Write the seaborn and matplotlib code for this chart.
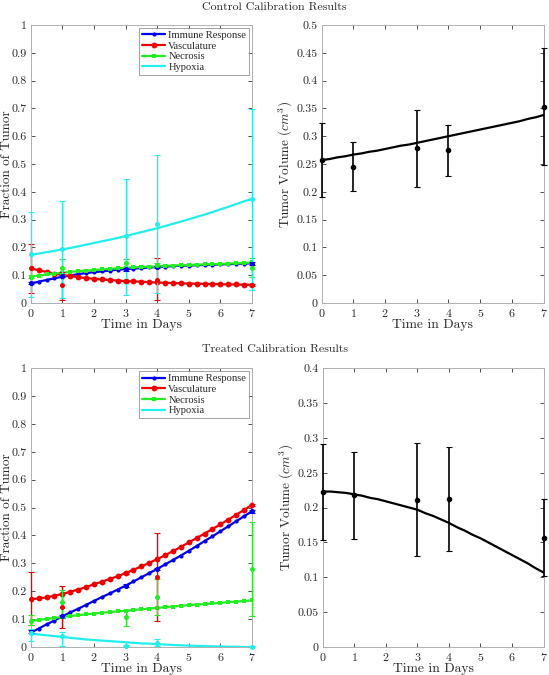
#!/usr/bin/env python3
"""Control vs treated calibration results: tumor fractions and tumor volume."""

import matplotlib
matplotlib.use("Agg")
import matplotlib.pyplot as plt
import numpy as np
import seaborn as sns

# model time grid (days) for the fitted curves
T_MODEL = [0, 0.25, 0.5, 0.75, 1, 1.25, 1.5, 1.75, 2, 2.25, 2.5, 2.75, 3, 3.25, 3.5,
           3.75, 4, 4.25, 4.5, 4.75, 5, 5.25, 5.5, 5.75, 6, 6.25, 6.5, 6.75, 7]
DAYS = [0, 1, 3, 4, 7]
SERIES = ["Immune Response", "Vasculature", "Necrosis", "Hypoxia"]

# ---- control: model curves
ctrl_immune = [0.070, 0.077, 0.083, 0.089, 0.095, 0.099, 0.104, 0.108, 0.111, 0.114,
               0.117, 0.120, 0.122, 0.124, 0.126, 0.128, 0.130, 0.131, 0.133, 0.134,
               0.135, 0.136, 0.137, 0.138, 0.139, 0.140, 0.141, 0.142, 0.143]
ctrl_vasc = [0.125, 0.118, 0.112, 0.106, 0.101, 0.097, 0.093, 0.090, 0.087, 0.085,
             0.083, 0.081, 0.079, 0.078, 0.077, 0.075, 0.074, 0.073, 0.072, 0.071,
             0.070, 0.070, 0.069, 0.068, 0.068, 0.067, 0.067, 0.066, 0.066]
ctrl_necr = [0.095, 0.099, 0.103, 0.106, 0.109, 0.112, 0.115, 0.117, 0.119, 0.121,
             0.123, 0.125, 0.127, 0.128, 0.130, 0.131, 0.132, 0.134, 0.135, 0.136,
             0.137, 0.138, 0.139, 0.140, 0.141, 0.142, 0.143, 0.144, 0.146]
ctrl_hypo = [0.173, 0.178, 0.183, 0.188, 0.193, 0.198, 0.204, 0.210, 0.216, 0.222,
             0.228, 0.234, 0.241, 0.248, 0.255, 0.262, 0.269, 0.277, 0.285, 0.293,
             0.301, 0.310, 0.318, 0.327, 0.337, 0.346, 0.356, 0.366, 0.374]
ctrl_volume = [0.257, 0.259, 0.262, 0.264, 0.267, 0.269, 0.272, 0.274, 0.277, 0.280,
               0.283, 0.285, 0.288, 0.291, 0.294, 0.297, 0.300, 0.303, 0.306, 0.309,
               0.312, 0.315, 0.318, 0.321, 0.324, 0.327, 0.331, 0.334, 0.338]

# ---- control: measured data (mean, lower, upper) at DAYS
ctrl_immune_obs = [0.072, 0.097, 0.121, 0.130, 0.142]
ctrl_immune_lo = [0.067, 0.092, 0.116, 0.125, 0.137]
ctrl_immune_hi = [0.077, 0.102, 0.126, 0.135, 0.147]
ctrl_vasc_obs = [0.127, 0.065, 0.078, 0.083, 0.065]
ctrl_vasc_lo = [0.038, 0.011, 0.075, 0.011, 0.062]
ctrl_vasc_hi = [0.211, 0.113, 0.081, 0.161, 0.068]
ctrl_necr_obs = [0.095, 0.127, 0.143, 0.137, 0.125]
ctrl_necr_lo = [0.090, 0.100, 0.128, 0.128, 0.095]
ctrl_necr_hi = [0.100, 0.157, 0.157, 0.145, 0.161]
ctrl_hypo_obs = [0.175, 0.194, 0.241, 0.283, 0.373]
ctrl_hypo_lo = [0.023, 0.020, 0.029, 0.035, 0.047]
ctrl_hypo_hi = [0.326, 0.367, 0.445, 0.532, 0.697]
ctrl_vol_obs = [0.257, 0.245, 0.278, 0.275, 0.353]
ctrl_vol_lo = [0.190, 0.201, 0.209, 0.229, 0.248]
ctrl_vol_hi = [0.323, 0.290, 0.347, 0.320, 0.458]

# ---- treated: model curves
trt_immune = [0.052, 0.066, 0.081, 0.095, 0.110, 0.124, 0.137, 0.151, 0.165, 0.179,
              0.192, 0.206, 0.220, 0.235, 0.250, 0.265, 0.280, 0.296, 0.312, 0.328,
              0.345, 0.362, 0.380, 0.397, 0.415, 0.433, 0.451, 0.469, 0.487]
trt_vasc = [0.172, 0.174, 0.178, 0.184, 0.190, 0.198, 0.206, 0.215, 0.225, 0.234,
            0.244, 0.254, 0.265, 0.277, 0.289, 0.302, 0.315, 0.329, 0.344, 0.359,
            0.375, 0.391, 0.407, 0.423, 0.440, 0.457, 0.474, 0.492, 0.510]
trt_necr = [0.093, 0.097, 0.101, 0.104, 0.108, 0.111, 0.114, 0.117, 0.120, 0.123,
            0.125, 0.128, 0.130, 0.133, 0.135, 0.138, 0.140, 0.143, 0.145, 0.148,
            0.150, 0.152, 0.154, 0.156, 0.158, 0.161, 0.163, 0.165, 0.167]
trt_hypo = [0.048, 0.045, 0.042, 0.039, 0.036, 0.033, 0.030, 0.027, 0.025, 0.023,
            0.021, 0.019, 0.017, 0.015, 0.013, 0.012, 0.010, 0.009, 0.007, 0.006,
            0.005, 0.004, 0.003, 0.002, 0.002, 0.001, 0.001, 0.000, 0.000]
trt_volume = [0.223, 0.223, 0.222, 0.221, 0.219, 0.217, 0.214, 0.212, 0.209, 0.206,
              0.203, 0.200, 0.197, 0.192, 0.188, 0.183, 0.178, 0.172, 0.167, 0.161,
              0.156, 0.150, 0.144, 0.138, 0.132, 0.126, 0.120, 0.113, 0.107]

# ---- treated: measured data
trt_immune_obs = [0.055, 0.110, 0.220, 0.280, 0.487]
trt_immune_lo = [0.050, 0.105, 0.215, 0.275, 0.482]
trt_immune_hi = [0.060, 0.115, 0.225, 0.285, 0.492]
trt_vasc_obs = [0.172, 0.142, 0.265, 0.250, 0.510]
trt_vasc_lo = [0.080, 0.068, 0.262, 0.095, 0.506]
trt_vasc_hi = [0.269, 0.217, 0.268, 0.409, 0.514]
trt_necr_obs = [0.093, 0.163, 0.106, 0.178, 0.281]
trt_necr_lo = [0.080, 0.105, 0.077, 0.115, 0.112]
trt_necr_hi = [0.115, 0.205, 0.130, 0.245, 0.450]
trt_hypo_obs = [0.050, 0.040, 0.005, 0.015, 0.000]
trt_hypo_lo = [0.020, 0.005, 0.002, 0.005, 0.000]
trt_hypo_hi = [0.065, 0.055, 0.008, 0.030, 0.002]
trt_vol_obs = [0.223, 0.218, 0.211, 0.213, 0.157]
trt_vol_lo = [0.154, 0.155, 0.130, 0.138, 0.102]
trt_vol_hi = [0.291, 0.280, 0.292, 0.287, 0.212]

COLORS = ["#0000ee", "#ee0000", "#22ee22", "#22eeee"]
MARKERS = [("o", 3.0), ("o", 4.2), ("s", 2.6), (None, 0)]

sns.set_theme(style="ticks")
plt.rcParams["font.family"] = ["cmr10", "DejaVu Serif"]
plt.rcParams["mathtext.fontset"] = "cm"
plt.rcParams["axes.formatter.use_mathtext"] = True
plt.rcParams["axes.unicode_minus"] = False


def style_axes(ax, ymax, ystep):
    ax.set_xlim(0, 7)
    ax.set_ylim(0, ymax)
    ax.set_xticks(range(8))
    ax.set_yticks(np.arange(0, ymax + 1e-9, ystep))
    ax.set_yticklabels([f"{v:g}" for v in np.arange(0, ymax + 1e-9, ystep)])
    ax.tick_params(direction="in", top=True, right=True, length=3, width=0.6,
                   color="#333333", labelsize=8.6, pad=3)
    for sp in ax.spines.values():
        sp.set_color("#b0b0b0")
        sp.set_linewidth(0.7)
    ax.set_xlabel("Time in Days", fontsize=9.8, labelpad=0)


def plot_fractions(ax, curves, obs, lo, hi):
    for i, name in enumerate(SERIES):
        marker, ms = MARKERS[i]
        sns.lineplot(x=T_MODEL, y=curves[i], ax=ax, color=COLORS[i], lw=1.6,
                     marker=marker, markersize=ms, markeredgewidth=0,
                     label=name, zorder=3)
    for i in range(4):
        y = np.array(obs[i])
        yerr = [y - np.array(lo[i]), np.array(hi[i]) - y]
        ax.errorbar(DAYS, y, yerr=yerr, fmt="o", ms=2.6, color=COLORS[i],
                    ecolor=COLORS[i], elinewidth=1.0, capsize=2, capthick=0.8,
                    zorder=4, clip_on=False)
    style_axes(ax, 1.0, 0.1)
    ax.set_ylabel("Fraction of Tumor", fontsize=9.5)
    ax.yaxis.set_label_coords(-0.082, 0.5)
    leg = ax.legend(loc="upper right", frameon=True, fancybox=False,
                    borderpad=0.25, labelspacing=0.12, handlelength=2.2,
                    handletextpad=0.3, borderaxespad=0.3,
                    prop={"family": "Liberation Serif", "size": 7.6})
    leg.get_frame().set_edgecolor("#777777")
    leg.get_frame().set_linewidth(0.6)


def plot_volume(ax, curve, obs, lo, hi, ymax):
    sns.lineplot(x=T_MODEL, y=curve, ax=ax, color="black", lw=1.6, zorder=3)
    y = np.array(obs)
    yerr = [y - np.array(lo), np.array(hi) - y]
    ax.errorbar(DAYS, y, yerr=yerr, fmt="o", ms=3, color="black", elinewidth=1.2,
                capsize=2, capthick=0.8, zorder=4, clip_on=False)
    style_axes(ax, ymax, 0.05)
    ax.set_ylabel("Tumor Volume ($cm^3$)", fontsize=9.5)
    ax.yaxis.set_label_coords(-0.12, 0.5)


fig = plt.figure(figsize=(5.49, 6.75), dpi=100)
ax1 = fig.add_axes([0.056, 0.551, 0.403, 0.412])
ax2 = fig.add_axes([0.586, 0.551, 0.404, 0.412])
ax3 = fig.add_axes([0.056, 0.0415, 0.403, 0.413])
ax4 = fig.add_axes([0.588, 0.0415, 0.402, 0.413])

plot_fractions(ax1, [ctrl_immune, ctrl_vasc, ctrl_necr, ctrl_hypo],
               [ctrl_immune_obs, ctrl_vasc_obs, ctrl_necr_obs, ctrl_hypo_obs],
               [ctrl_immune_lo, ctrl_vasc_lo, ctrl_necr_lo, ctrl_hypo_lo],
               [ctrl_immune_hi, ctrl_vasc_hi, ctrl_necr_hi, ctrl_hypo_hi])
plot_volume(ax2, ctrl_volume, ctrl_vol_obs, ctrl_vol_lo, ctrl_vol_hi, 0.5)
plot_fractions(ax3, [trt_immune, trt_vasc, trt_necr, trt_hypo],
               [trt_immune_obs, trt_vasc_obs, trt_necr_obs, trt_hypo_obs],
               [trt_immune_lo, trt_vasc_lo, trt_necr_lo, trt_hypo_lo],
               [trt_immune_hi, trt_vasc_hi, trt_necr_hi, trt_hypo_hi])
plot_volume(ax4, trt_volume, trt_vol_obs, trt_vol_lo, trt_vol_hi, 0.4)

fig.text(0.5, 0.989, "Control Calibration Results", ha="center", va="center", fontsize=8.6)
fig.text(0.5, 0.483, "Treated Calibration Results", ha="center", va="center", fontsize=8.6)

fig.savefig("out.png", dpi=100)
